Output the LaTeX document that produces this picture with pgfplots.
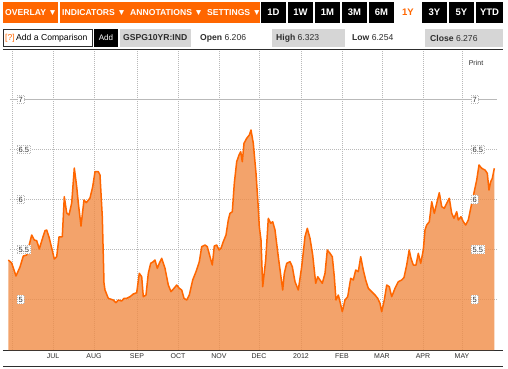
\documentclass[border=0pt]{standalone}
\usepackage{fontspec}
\setmainfont{Liberation Sans}
\usepackage{pgfplots}
\usepackage{pgfplotstable}
\pgfplotsset{compat=1.18}
\definecolor{bbor}{HTML}{FF6600}
\definecolor{fillor}{RGB}{240,140,70}
\definecolor{grayb}{RGB}{214,214,214}
\definecolor{gridc}{RGB}{185,185,185}
\definecolor{txt}{RGB}{45,45,45}

\pgfplotstableread{
x v
8.3 5.395
11.7 5.365
16 5.235
20 5.325
23.3 5.435
26.7 5.445
31.7 5.645
34.3 5.595
36.7 5.588
39.3 5.505
42.3 5.605
45 5.688
46.7 5.695
49 5.625
51.7 5.515
54.3 5.405
56.7 5.428
59 5.625
62.3 5.628
64.3 6.028
66.7 5.865
69 5.845
71.7 5.965
74.3 6.315
76.7 6.128
78.3 5.965
81 5.735
84 5.995
86.3 5.968
90 6.015
92.7 6.128
95 6.278
98.3 6.278
100 6.245
102.3 5.828
104 5.165
105 5.095
108.3 5.012
113.3 4.995
116 4.968
118.3 4.995
121.7 4.985
124 5.012
126.7 5.012
130 5.028
133.3 5.055
136.7 5.068
139.3 5.262
141.7 5.228
143.3 5.028
146 5.045
148.3 5.262
150.7 5.362
153.3 5.378
155 5.395
157.3 5.312
159.3 5.362
161.7 5.412
165 5.312
168.3 5.145
171 5.078
174 5.112
176.7 5.145
179.3 5.112
181.7 5.095
184 5.012
186.7 4.995
189.3 5.045
192.7 5.195
196 5.278
199.3 5.378
201.7 5.528
205 5.545
207.3 5.528
210 5.428
212.3 5.345
214.3 5.535
216.7 5.545
219 5.495
221 5.512
223.3 5.578
226 5.645
228.3 5.795
230 5.862
232.3 5.878
234.3 6.162
236.7 6.378
239 6.445
240.7 6.478
242.3 6.378
244 6.562
246.7 6.612
249.3 6.645
251 6.695
253.3 6.562
256 6.262
258 5.962
259.3 5.728
261 5.595
262.7 5.128
265.7 5.395
268.3 5.812
270.7 5.762
272.7 5.778
275 5.695
278.3 5.428
282.7 5.095
284.3 5.262
286.7 5.362
290 5.378
292.3 5.328
295 5.178
298.3 5.095
301.7 5.328
305 5.628
307.3 5.712
310 5.612
312.7 5.445
315.7 5.162
317.7 5.228
320 5.195
322.3 5.162
325 5.262
327.3 5.495
330 5.462
332.3 5.428
334.3 5.228
336 4.995
338.3 5.045
340 4.978
342.3 4.878
345 4.995
347.7 5.028
350.7 5.212
353.3 5.195
355.7 5.295
358.3 5.278
360.7 5.428
363.3 5.295
365.7 5.195
368.3 5.112
371.7 5.078
375 5.045
377.7 5.012
380 4.962
381.7 4.878
384.3 4.995
386.7 5.145
389.3 5.128
391.7 5.028
395 5.112
398.3 5.178
401.7 5.195
404 5.22
406.7 5.345
409.2 5.495
411 5.412
413.3 5.345
416 5.345
418.3 5.462
420.7 5.362
423.3 5.495
425 5.695
426.7 5.745
429.3 5.778
431.7 5.978
434.3 5.862
436.7 5.962
439.3 6.068
441.7 5.928
444.3 5.912
446.7 5.962
449.3 6.012
451.7 5.862
454 5.812
456.7 5.878
458.3 5.795
461 5.828
463.3 5.778
465.7 5.745
468.3 5.795
470.7 5.912
474 6.068
476.7 6.195
479 6.345
481.7 6.312
485 6.295
487.3 6.262
489 6.095
490.7 6.178
492.3 6.212
494.3 6.312
}\yielddata

\begin{document}
\begin{tikzpicture}[x=1pt,y=1pt]
\useasboundingbox (0,0) rectangle (508,368);
\fill[white] (0,0) rectangle (508,368);
% ---- header row 1
\fill[bbor] (3,345) rectangle (260,366);
\draw[white, line width=1.2pt] (59,345) -- (59,366);
\begin{scope}[every node/.style={text=white, font=\bfseries\fontsize{8.6}{10}\selectfont, anchor=west, inner sep=0pt}]
\node at (5,355.5) {OVERLAY ▼};
\node at (62,355.5) {INDICATORS ▼};
\node at (130,355.5) {ANNOTATIONS ▼};
\node at (207,355.5) {SETTINGS ▼};
\end{scope}
\foreach \a/\b/\t in {261/286/1D,288/313/1W,315/340/1M,342/367/3M,369/394/6M,422/447/3Y,449/474/5Y,476/503/YTD}{
  \fill[black] (\a,345) rectangle (\b,366);
  \node[text=white, font=\bfseries\fontsize{9.5}{11}\selectfont, inner sep=0pt] at ({(\a+\b)/2},355.5) {\t};
}
\node[text=bbor, font=\bfseries\fontsize{9.5}{11}\selectfont, inner sep=0pt] at (408,355.5) {1Y};
% ---- header row 2
\draw[txt, line width=0.6pt, fill=white] (3.5,321.5) rectangle (92,338.5);
\node[anchor=west, inner sep=0pt, font=\fontsize{8.6}{10}\selectfont] at (5,330) {\textcolor{bbor}{[?]}\,Add a Comparison};
\fill[black] (94,321) rectangle (118,339);
\node[text=white, inner sep=0pt, font=\fontsize{8}{10}\selectfont] at (106,330) {Add};
\fill[grayb] (120,321) rectangle (191,339);
\node[anchor=west, inner sep=0pt, text=txt, font=\bfseries\fontsize{8.6}{10}\selectfont] at (123,330) {GSPG10YR:IND};
\node[anchor=west, inner sep=0pt, text=txt, font=\fontsize{8.6}{10}\selectfont] at (200,330) {\textbf{Open} 6.206};
\fill[grayb] (272,321) rectangle (345,339);
\node[anchor=west, inner sep=0pt, text=txt, font=\fontsize{8.6}{10}\selectfont] at (276,330) {\textbf{High} 6.323};
\node[anchor=west, inner sep=0pt, text=txt, font=\fontsize{8.6}{10}\selectfont] at (352,330) {\textbf{Low} 6.254};
\fill[grayb] (425,321) rectangle (503,339);
\node[anchor=west, inner sep=0pt, text=txt, font=\fontsize{8.6}{10}\selectfont] at (430,330) {\textbf{Close} 6.276};
\draw[txt, line width=0.8pt] (3,319) -- (503,319);
% ---- bottom line
\draw[txt, line width=0.6pt] (3,2) -- (503,2);
\node[text=txt, inner sep=0pt, font=\fontsize{7}{8}\selectfont] at (476,305) {Print};

\begin{axis}[
  at={(3,18)}, anchor=south west,
  width=500pt, height=300pt, scale only axis,
  xmin=3, xmax=503, ymin=4.495, ymax=7.495,
  axis x line*=bottom, axis y line=none,
  x axis line style={draw=txt, line width=0.8pt, -},
  ytick=\empty,
  xtick={53,94,137,178,219,259,301,342,382,423,462},
  xticklabels={JUL,AUG,SEP,OCT,NOV,DEC,2012,FEB,MAR,APR,MAY},
  xticklabel style={font=\fontsize{7}{8}\selectfont, text=txt},
  major tick length=0pt,
  xmajorgrids,
  grid style={gridc, line width=0.6pt, dash pattern=on 1pt off 1pt},
  extra x ticks={12}, extra x tick labels={}, extra x tick style={grid=major},
  clip=true,
]
\draw[gridc, line width=0.8pt] (axis cs:10,7) -- (axis cs:497,7);
\draw[gridc, line width=0.6pt, dash pattern=on 1pt off 1pt] (axis cs:10,6.5) -- (axis cs:497,6.5);
\draw[gridc, line width=0.6pt, dash pattern=on 1pt off 1pt] (axis cs:10,6) -- (axis cs:497,6);
\draw[gridc, line width=0.6pt, dash pattern=on 1pt off 1pt] (axis cs:10,5.5) -- (axis cs:497,5.5);
\draw[gridc, line width=0.6pt, dash pattern=on 1pt off 1pt] (axis cs:10,5) -- (axis cs:497,5);
\addplot[draw=none, fill=fillor, fill opacity=0.8] table[x=x, y=v] {\yielddata} \closedcycle;
\addplot[bbor, line width=1.5pt, line join=round] table[x=x, y=v] {\yielddata};
\tikzset{lab/.style={anchor=west, fill=white, draw=gridc, dash pattern=on 1pt off 1pt, inner sep=1.5pt, text=txt, font=\fontsize{7.5}{9}\selectfont}}
\node[lab] at (axis cs:17,7) {7};
\node[lab] at (axis cs:17,6.5) {6.5};
\node[lab] at (axis cs:17,6) {6};
\node[lab] at (axis cs:17,5.5) {5.5};
\node[lab] at (axis cs:17,5) {5};
\node[lab] at (axis cs:471,7) {7};
\node[lab] at (axis cs:471,6.5) {6.5};
\node[lab] at (axis cs:471,6) {6};
\node[lab] at (axis cs:471,5.5) {5.5};
\node[lab] at (axis cs:471,5) {5};
\end{axis}
\end{tikzpicture}
\end{document}
